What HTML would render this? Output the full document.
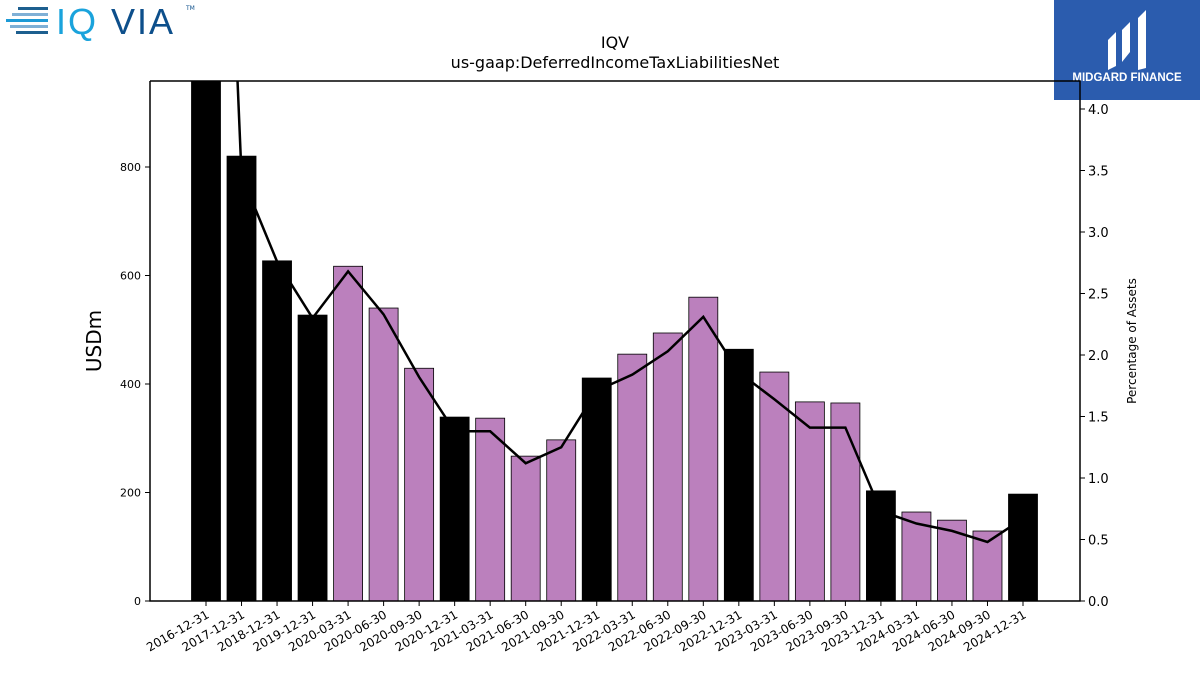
<!DOCTYPE html>
<html><head><meta charset="utf-8"><style>
body{margin:0;background:#fff;width:1200px;height:675px;overflow:hidden;font-family:"Liberation Sans","DejaVu Sans",sans-serif}
</style></head><body>
<svg id="chart" width="1200" height="675" xmlns="http://www.w3.org/2000/svg" font-family="DejaVu Sans, Liberation Sans, sans-serif">
<g>
<rect x="18" y="7" width="30" height="3" fill="#1d5f8f"/><rect x="12" y="13" width="36" height="3" fill="#7fb0d6"/>
<rect x="6" y="19" width="42" height="3" fill="#1d9ad6"/><rect x="10" y="25" width="38" height="3" fill="#7fb0d6"/>
<rect x="16" y="31" width="32" height="3" fill="#1d5f8f"/>
<text x="56" y="34" font-size="36" fill="#1aa3dc" font-family="Liberation Sans, sans-serif" letter-spacing="2">IQ</text>
<text x="111" y="34" font-size="36" fill="#0d4f8b" font-family="Liberation Sans, sans-serif" letter-spacing="2">VIA</text>
<text x="186" y="10" font-size="6" fill="#0d4f8b">TM</text>
</g>
<g>
<rect x="1054" y="0" width="146" height="100" fill="#2b5cae"/>
<path d="M1108 40 l8 -8 v34 l-8 4z M1122 30 l8 -8 v30 l-8 10z M1138 18 l8 -8 v58 l-8 2z" fill="#fff"/>
<text x="1127" y="81" font-size="11.5" font-weight="bold" fill="#fff" text-anchor="middle" font-family="Liberation Sans, sans-serif">MIDGARD FINANCE</text>
</g>
<text x="615" y="48" font-size="16" text-anchor="middle">IQV</text>
<text x="615" y="68" font-size="16" text-anchor="middle">us-gaap:DeferredIncomeTaxLiabilitiesNet</text>
<defs><clipPath id="pc"><rect x="150" y="81" width="930" height="520"/></clipPath></defs>
<g id="bars" clip-path="url(#pc)"></g>
<g id="line" clip-path="url(#pc)"></g>
<g id="axes"></g>
<text x="101" y="341" font-size="20" text-anchor="middle" transform="rotate(-90 101 341)">USDm</text>
<text x="1136" y="341" font-size="12" text-anchor="middle" transform="rotate(-90 1136 341)">Percentage of Assets</text>
</svg>
<script>
const categories=["2016-12-31","2017-12-31","2018-12-31","2019-12-31","2020-03-31","2020-06-30","2020-09-30","2020-12-31","2021-03-31","2021-06-30","2021-09-30","2021-12-31","2022-03-31","2022-06-30","2022-09-30","2022-12-31","2023-03-31","2023-06-30","2023-09-30","2023-12-31","2024-03-31","2024-06-30","2024-09-30","2024-12-31"];
const values=[990,820,627,527,617,540,429,339,337,267,297,411,455,494,560,464,422,367,365,203,164,149,129,197];
const pctAssets=[10.3,3.46,2.76,2.30,2.68,2.33,1.82,1.38,1.38,1.12,1.25,1.71,1.84,2.03,2.31,1.86,1.64,1.41,1.41,0.73,0.63,0.57,0.48,0.67];
const yTicks=[0,200,400,600,800];
const y2Ticks=[0,0.5,1,1.5,2,2.5,3,3.5,4];
const NS="http://www.w3.org/2000/svg";
const L=150,R=1080,T=81,B=601;
const x=i=>206+i*(1023-206)/(categories.length-1);
const y=v=>B-v*(B-T)/958.5;
const y2=v=>B-v*123;
function mk(tag,at,parent){const e=document.createElementNS(NS,tag);for(const k in at)e.setAttribute(k,at[k]);document.getElementById(parent).appendChild(e);return e;}
categories.forEach((c,i)=>{
 const b=mk('rect',{x:x(i)-14.5,y:y(values[i]),width:29,height:B-y(values[i]),fill:c.endsWith('12-31')?'#000':'#bb80bd',stroke:'#000','stroke-width':0.8},'bars');
 
 
});
const ln=mk('polyline',{points:pctAssets.map((v,i)=>x(i)+','+y2(v)).join(' '),fill:'none',stroke:'#000','stroke-width':2.5},'line');


const fr=mk('path',{d:`M${L} ${T}V${B}H${R}V${T}H${L}`,fill:'none',stroke:'#000','stroke-width':1.5},'axes');


yTicks.forEach(v=>{
 mk('line',{x1:L-5,x2:L,y1:y(v),y2:y(v),stroke:'#000'},'axes');
 const t=mk('text',{x:L-9,y:y(v)+4,'font-size':11,'text-anchor':'end'},'axes');t.textContent=v;
 
 
});
y2Ticks.forEach(v=>{
 mk('line',{x1:R,x2:R+5,y1:y2(v),y2:y2(v),stroke:'#000'},'axes');
 const t=mk('text',{x:R+8,y:y2(v)+5,'font-size':13},'axes');t.textContent=v.toFixed(1);
 
 
});
categories.forEach((c,i)=>{
 mk('line',{x1:x(i),x2:x(i),y1:B,y2:B+5,stroke:'#000'},'axes');
 const t=mk('text',{x:x(i)+4,y:B+16,'font-size':12,'text-anchor':'end',transform:`rotate(-30 ${x(i)+4} ${B+16})`},'axes');t.textContent=c;
 
 
});
</script>
</body></html>
